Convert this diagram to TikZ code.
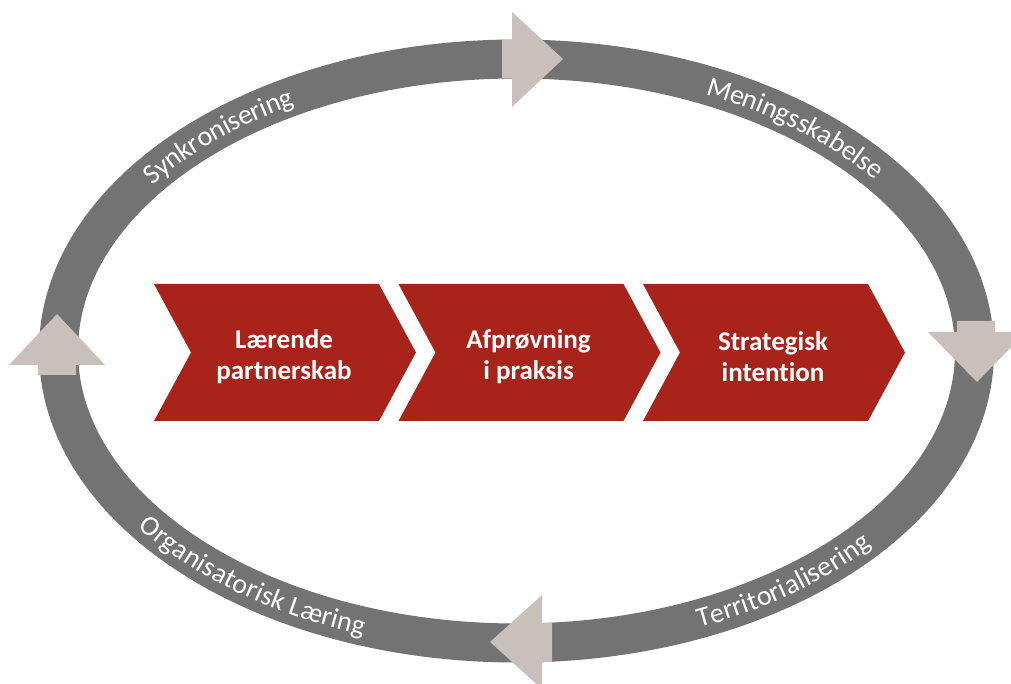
\documentclass[tikz,border=0pt]{standalone}
\usepackage{fontspec}
\setmainfont[Ligatures=NoCommon]{Carlito}
\usetikzlibrary{decorations.text}
\definecolor{ringgray}{HTML}{737373}
\definecolor{arrowtan}{HTML}{C9BFBB}
\definecolor{chevred}{HTML}{A8241A}
\newcommand\ringfont{\fontsize{28}{30}\selectfont}
\newcommand\chevfont{\fontsize{27}{31}\selectfont\bfseries}
\tikzset{
  ringband/.style={draw=ringgray, line width=39pt},
  ringarrow/.style={fill=arrowtan, draw=none},
  chevron/.style={fill=chevred, draw=none},
  chevtext/.style={text=white, font=\chevfont, align=center, inner sep=0pt},
  ringtext/.style={decorate, decoration={text along path, text align=center,
      raise=-8.8pt, text color=white, text={|\ringfont|#1}}}
}
\begin{document}
\begin{tikzpicture}[x=1pt,y=1pt]
\useasboundingbox (0,0) rectangle (1011,684);
\clip (0,0) rectangle (1011,684);
% ring
\draw[ringband] (516.5,333) ellipse[x radius=458, y radius=292];
% arrows on the ring
\fill[ringarrow] (502,644) -- (512,644) -- (512,672) -- (563,625) -- (512,577) -- (512,606) -- (502,606) -- cycle;
\fill[ringarrow] (957,363) -- (995,363) -- (995,352) -- (1026,352) -- (977,302) -- (928,352) -- (957,352) -- cycle;
\fill[ringarrow] (552,61) -- (552,22) -- (542,22) -- (542,-5) -- (490,42) -- (542,89) -- (542,61) -- cycle;
\fill[ringarrow] (38,309) -- (76,309) -- (76,319) -- (105,319) -- (57,370) -- (9,319) -- (38,319) -- cycle;
% texts along the ring
\begin{scope}[shift={(516.5,333)}]
\path[ringtext={Synkronisering}] (154.7:458 and 292) arc[start angle=154.7, end angle=110.7, x radius=458, y radius=292];
\path[ringtext={Meningsskabelse}] (72.4:458 and 292) arc[start angle=72.4, end angle=28.4, x radius=458, y radius=292];
\path[ringtext={Territorialisering}] (-74.5:458 and 292) arc[start angle=-74.5, end angle=-30.5, x radius=458, y radius=292];
\path[ringtext={Organisatorisk Læring}] (-152.9:458 and 292) arc[start angle=-152.9, end angle=-102.9, x radius=458, y radius=292];
\end{scope}
% chevrons
\foreach \x in {154,398.5,643}{
  \fill[chevron] (\x,400) -- ({\x+225},400) -- ({\x+262},331.5) -- ({\x+225},263) -- (\x,263) -- ({\x+37},331.5) -- cycle;
}
\node[chevtext] (c1) at (284,327) {Lærende\\partnerskab};
\node[chevtext] (c2) at (528.5,327) {Afprøvning\\i praksis};
\node[chevtext] (c3) at (773,327) {Strategisk\\intention};
\end{tikzpicture}
\end{document}
